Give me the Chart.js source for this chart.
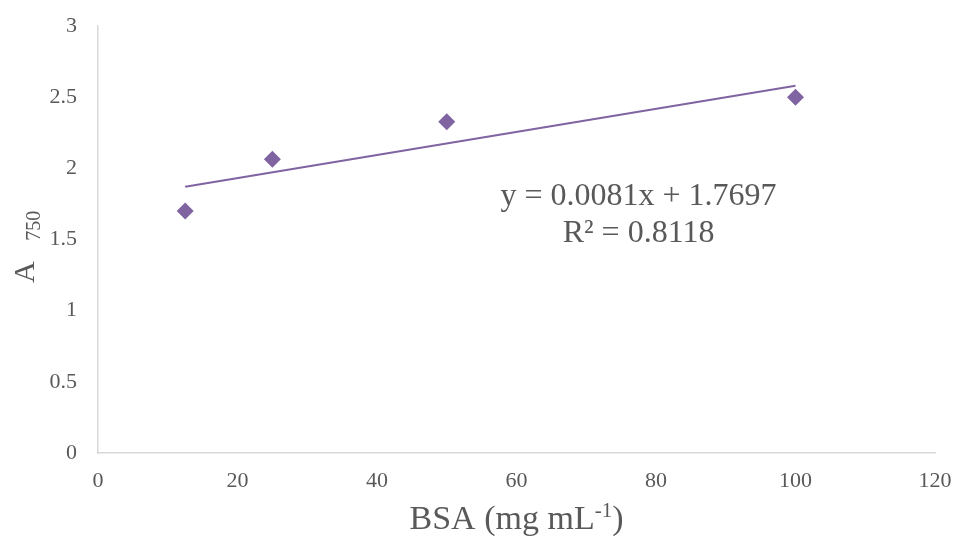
<!DOCTYPE html>
<html>
<head>
<meta charset="utf-8">
<script src="https://cdn.jsdelivr.net/npm/chart.js@4.4.1/dist/chart.umd.min.js"></script>
<style>
  html, body { margin: 0; padding: 0; background: #fff; }
  #wrap { width: 955px; height: 540px; position: relative; }
</style>
</head>
<body>
<div id="wrap"><canvas id="grafBsa"></canvas></div>
<script>
// dados
const bsaConc = [12.5, 25, 50, 100];
const absorbance = [1.70, 2.064, 2.328, 2.50];
const xTicks = [0, 20, 40, 60, 80, 100, 120];
const yTicks = [0, 0.5, 1, 1.5, 2, 2.5, 3];
// linha de tendencia (Excel)
const trendCoef = [0.0081, 1.7697];
const eqLines = ['y = 0.0081x + 1.7697', 'R\u00b2 = 0.8118'];

const purple = '#8064a2';
const textGray = '#595959';
const serif = '"Liberation Serif", "Times New Roman", serif';

document.addEventListener('DOMContentLoaded', function () {
    const ctx = document.getElementById('grafBsa').getContext('2d');

    const xMin = Math.min(...bsaConc);
    const xMax = Math.max(...bsaConc);
    const trendData = [xMin, xMax].map(x => ({ x: x, y: trendCoef[0] * x + trendCoef[1] }));

    // titulos dos eixos com sub/sobrescrito e a equacao
    const extraText = {
        id: 'extraText',
        afterDraw(chart) {
            const c = chart.ctx;
            const xs = chart.scales.x;
            c.save();
            c.fillStyle = textGray;
            c.textBaseline = 'alphabetic';

            // equacao
            c.font = '32px ' + serif;
            c.textAlign = 'center';
            const ex = xs.getPixelForValue(77.5);
            c.fillText(eqLines[0], ex, 205);
            c.fillText(eqLines[1], ex, 242);

            // titulo x: BSA (mg mL-1)
            c.textAlign = 'left';
            const big = '34px ' + serif;
            const small = '21px ' + serif;
            const parts = [['BSA (mg mL', big, 0], ['-1', small, -12], [')', big, 0]];
            let w = 0;
            parts.forEach(p => { c.font = p[1]; w += c.measureText(p[0]).width; });
            let px = (chart.chartArea.left + chart.chartArea.right) / 2 - w / 2;
            parts.forEach(p => {
                c.font = p[1];
                c.fillText(p[0], px, 529 + p[2]);
                px += c.measureText(p[0]).width;
            });

            // titulo y: A 750
            c.translate(34, 283);
            c.rotate(-Math.PI / 2);
            c.font = '30px ' + serif;
            c.fillText('A', 0, 0);
            const aw = c.measureText('A ').width;
            c.font = '20px ' + serif;
            c.fillText('750', aw + 13, 6);
            c.restore();
        }
    };

    new Chart(ctx, {
        type: 'scatter',
        data: {
            datasets: [{
                label: 'A750',
                data: bsaConc.map((x, i) => ({ x: x, y: absorbance[i] })),
                pointStyle: 'rectRot',
                pointRadius: 8.5,
                pointHoverRadius: 8.5,
                backgroundColor: purple,
                borderColor: purple,
                borderWidth: 0,
                order: 1
            }, {
                label: 'Linear',
                type: 'line',
                data: trendData,
                borderColor: purple,
                borderWidth: 2,
                pointRadius: 0,
                fill: false,
                order: 2
            }]
        },
        plugins: [extraText],
        options: {
            responsive: true,
            maintainAspectRatio: false,
            animation: false,
            layout: { padding: { left: 0, right: 20, top: 26, bottom: 0 } },
            plugins: {
                legend: { display: false },
                tooltip: { enabled: false }
            },
            scales: {
                x: {
                    type: 'linear',
                    min: xTicks[0],
                    max: xTicks[xTicks.length - 1],
                    afterBuildTicks: s => { s.ticks = xTicks.map(v => ({ value: v })); },
                    afterFit: s => {
                        s.height = 87;
                        s.paddingLeft = 0; s.paddingRight = 0;
                    },
                    grid: { display: false, drawTicks: false },
                    border: { display: true, color: '#d9d9d9', width: 1.5 },
                    ticks: { color: textGray, font: { family: serif, size: 22 }, padding: 15, maxRotation: 0 }
                },
                y: {
                    type: 'linear',
                    min: yTicks[0],
                    max: yTicks[yTicks.length - 1],
                    afterBuildTicks: s => { s.ticks = yTicks.map(v => ({ value: v })); },
                    afterFit: s => {
                        s.width = 98;
                        s.paddingTop = 0; s.paddingBottom = 0;
                    },
                    grid: { display: false, drawTicks: false },
                    border: { display: true, color: '#d9d9d9', width: 1.5 },
                    ticks: {
                        color: textGray, font: { family: serif, size: 22 }, padding: 21,
                        callback: v => String(v)
                    }
                }
            }
        }
    });
});
</script>
</body>
</html>
